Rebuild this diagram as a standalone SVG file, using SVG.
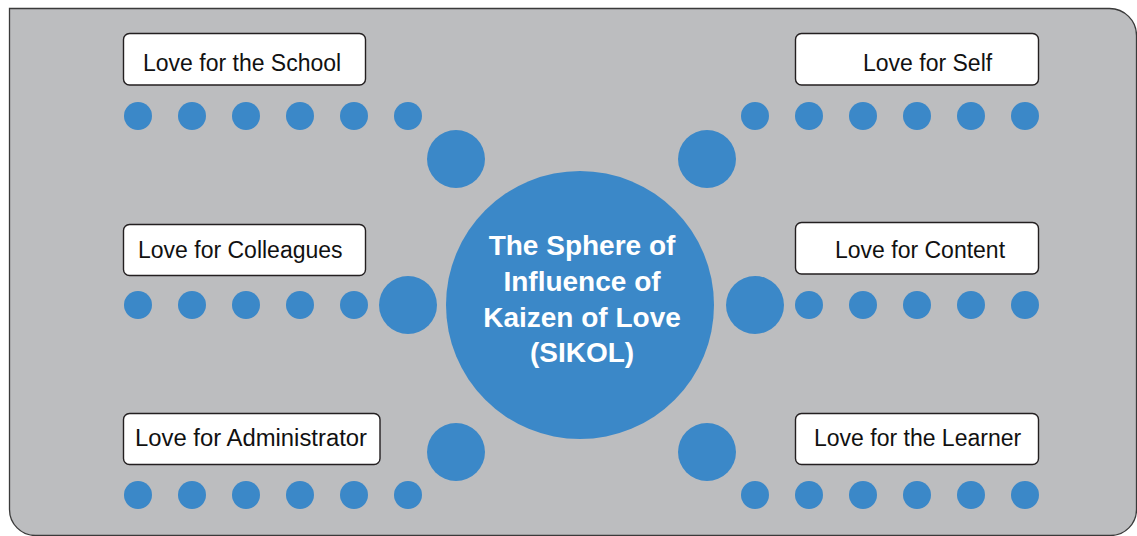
<svg xmlns="http://www.w3.org/2000/svg" width="1137" height="536" viewBox="0 0 1137 536">
<style>
.bg{fill:#bcbdbf;stroke:#3a3a3a;stroke-width:1.3}
.box{fill:#ffffff;stroke:#231f20;stroke-width:1.4}
.lbl{font-family:"Liberation Sans",Arial,sans-serif;font-size:23px;fill:#111111}
.dot{fill:#3b88c8}
.ctr{font-family:"Liberation Sans",Arial,sans-serif;font-size:28px;font-weight:bold;fill:#ffffff;text-anchor:middle}
</style>
<path class="bg" d="M9.5,8.5 H1109.5 A27,27 0 0 1 1136.5,35.5 V509.5 A26,26 0 0 1 1110.5,535.5 H35.5 A26,26 0 0 1 9.5,509.5 Z"/>
<g id="connectors">
  <g id="dots-school">
    <circle class="dot" cx="138" cy="116" r="14"/><circle class="dot" cx="192" cy="116" r="14"/><circle class="dot" cx="246" cy="116" r="14"/><circle class="dot" cx="300" cy="116" r="14"/><circle class="dot" cx="354" cy="116" r="14"/><circle class="dot" cx="408" cy="116" r="14"/>
    <circle class="dot" cx="456" cy="159" r="29"/>
  </g>
  <g id="dots-self">
    <circle class="dot" cx="755" cy="116" r="14"/><circle class="dot" cx="809" cy="116" r="14"/><circle class="dot" cx="863" cy="116" r="14"/><circle class="dot" cx="917" cy="116" r="14"/><circle class="dot" cx="971" cy="116" r="14"/><circle class="dot" cx="1025" cy="116" r="14"/>
    <circle class="dot" cx="707" cy="159" r="29"/>
  </g>
  <g id="dots-colleagues">
    <circle class="dot" cx="138" cy="305" r="14"/><circle class="dot" cx="192" cy="305" r="14"/><circle class="dot" cx="246" cy="305" r="14"/><circle class="dot" cx="300" cy="305" r="14"/><circle class="dot" cx="354" cy="305" r="14"/>
    <circle class="dot" cx="408" cy="305" r="29"/>
  </g>
  <g id="dots-content">
    <circle class="dot" cx="809" cy="305" r="14"/><circle class="dot" cx="863" cy="305" r="14"/><circle class="dot" cx="917" cy="305" r="14"/><circle class="dot" cx="971" cy="305" r="14"/><circle class="dot" cx="1025" cy="305" r="14"/>
    <circle class="dot" cx="755" cy="305" r="29"/>
  </g>
  <g id="dots-administrator">
    <circle class="dot" cx="138" cy="495" r="14"/><circle class="dot" cx="192" cy="495" r="14"/><circle class="dot" cx="246" cy="495" r="14"/><circle class="dot" cx="300" cy="495" r="14"/><circle class="dot" cx="354" cy="495" r="14"/><circle class="dot" cx="408" cy="495" r="14"/>
    <circle class="dot" cx="456" cy="452" r="29"/>
  </g>
  <g id="dots-learner">
    <circle class="dot" cx="755" cy="495" r="14"/><circle class="dot" cx="809" cy="495" r="14"/><circle class="dot" cx="863" cy="495" r="14"/><circle class="dot" cx="917" cy="495" r="14"/><circle class="dot" cx="971" cy="495" r="14"/><circle class="dot" cx="1025" cy="495" r="14"/>
    <circle class="dot" cx="707" cy="452" r="29"/>
  </g>
</g>
<g id="center">
  <circle class="dot" cx="580" cy="305" r="134"/>
  <text class="ctr" x="582" y="255">The Sphere of</text>
  <text class="ctr" x="582" y="291">Influence of</text>
  <text class="ctr" x="582" y="327">Kaizen of Love</text>
  <text class="ctr" x="582" y="362">(SIKOL)</text>
</g>
<g id="school">
  <rect class="box" x="123.5" y="33.5" width="242" height="51.5" rx="6"/>
  <text class="lbl" x="143" y="71">Love for the School</text>
</g>
<g id="self">
  <rect class="box" x="795.5" y="33.5" width="243" height="51.5" rx="6"/>
  <text class="lbl" x="863" y="71">Love for Self</text>
</g>
<g id="colleagues">
  <rect class="box" x="123.5" y="224.5" width="242" height="51" rx="6"/>
  <text class="lbl" x="138" y="258">Love for Colleagues</text>
</g>
<g id="content">
  <rect class="box" x="795.5" y="222.5" width="243" height="51.5" rx="6"/>
  <text class="lbl" x="835" y="258">Love for Content</text>
</g>
<g id="administrator">
  <rect class="box" x="123.5" y="413.5" width="256.5" height="51" rx="6"/>
  <text class="lbl" x="135" y="446" textLength="232" lengthAdjust="spacingAndGlyphs">Love for Administrator</text>
</g>
<g id="learner">
  <rect class="box" x="795.5" y="413.5" width="243" height="51" rx="6"/>
  <text class="lbl" x="814" y="446">Love for the Learner</text>
</g>
</svg>
